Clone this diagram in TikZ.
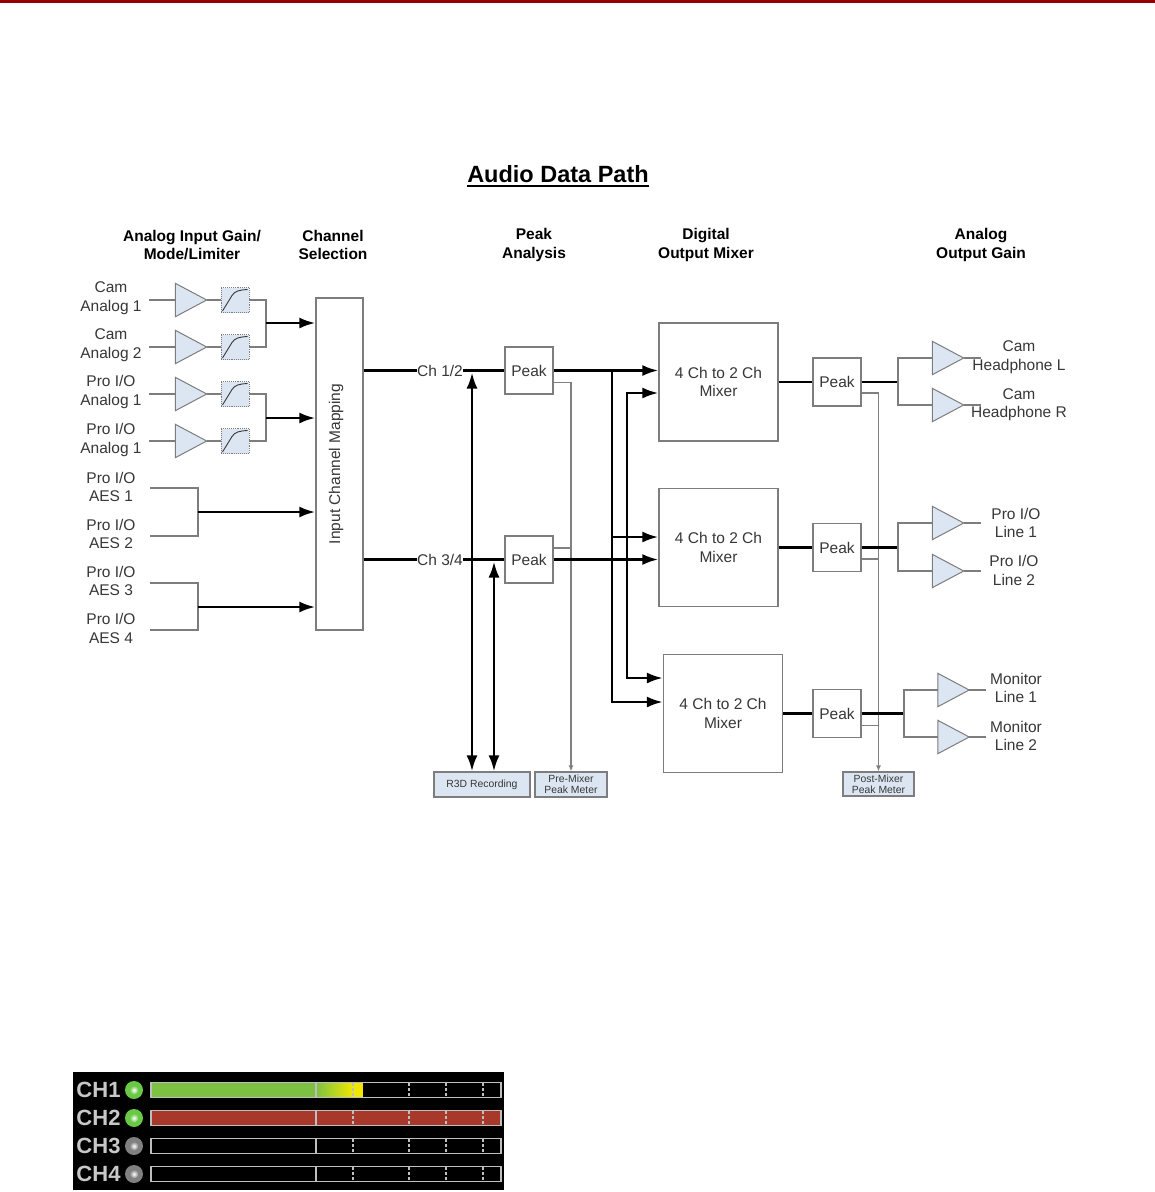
\documentclass[tikz,border=0pt]{standalone}
\usepackage{fontspec}
\setmainfont{Liberation Sans}
\usetikzlibrary{calc,positioning,arrows.meta}

\definecolor{ampblue}{RGB}{220,230,242}
\definecolor{boxgray}{RGB}{125,125,125}
\definecolor{txtgray}{RGB}{55,55,55}
\definecolor{topred}{RGB}{150,0,0}
\definecolor{ledgreen}{RGB}{105,200,70}
\definecolor{bargreen}{RGB}{125,193,66}
\definecolor{baryellow}{RGB}{240,232,0}
\definecolor{barred}{RGB}{168,56,42}
\definecolor{barline}{RGB}{190,190,190}
\definecolor{chtext}{RGB}{200,200,200}

\tikzset{
	lbl/.style={font=\fontsize{15.5}{18.5}\selectfont, text=txtgray, align=center, inner sep=0pt},
	hdr/.style={font=\bfseries\fontsize{15.5}{18.5}\selectfont, align=center, inner sep=0pt},
	ampbox/.style={minimum width=31, minimum height=33, inner sep=0pt},
	limbox/.style={draw=boxgray, densely dotted, line width=0.9, fill=ampblue, minimum width=28, minimum height=25, inner sep=0pt,
		path picture={\draw[solid, txtgray, line width=0.9pt]
			([shift={(1.5pt,1.5pt)}]path picture bounding box.south west) -- ([shift={(11pt,17pt)}]path picture bounding box.south west)
			.. controls ([shift={(14pt,21.5pt)}]path picture bounding box.south west) and ([shift={(18pt,22.5pt)}]path picture bounding box.south west)
			.. ([shift={(26.5pt,23pt)}]path picture bounding box.south west);}},
	peakbox/.style={lbl, draw=boxgray, line width=1.2, fill=white, minimum width=48, minimum height=47},
	mixbox/.style={lbl, draw=boxgray, line width=1.2, minimum width=119, minimum height=118},
	metbox/.style={draw=boxgray, line width=1.2, fill=ampblue, align=center, inner sep=0pt, text=txtgray, font=\fontsize{10.4}{11.2}\selectfont},
	wire/.style={draw=boxgray, line width=1.3},
	bus/.style={draw=black, line width=2.7},
	tap/.style={draw=gray, line width=1.2},
}

\begin{document}
\begin{tikzpicture}[x=1pt, y=-1pt, >={Latex[length=16pt,width=11pt]}]
	%\draw[help lines] (0,0) grid (1155,1192);
	\fill[white] (0,0) rectangle (1155,1192);
	\useasboundingbox (0,0) rectangle (1155,1192);
	\fill[topred] (0,0) rectangle (1155,2.5);

	%titre et colonnes
	\node[font=\bfseries\fontsize{23.5}{26}\selectfont, inner sep=0pt] (title) at (558,174) {Audio Data Path};
	\draw[line width=2] ([yshift=-3pt]title.south west) -- ([yshift=-3pt]title.south east);
	\node[hdr] (h1) at (192,245) {Analog Input Gain/\\Mode/Limiter};
	\node[hdr] (h2) at (333,245) {Channel\\Selection};
	\node[hdr] (h3) at (534,245) {Peak\\Analysis};
	\node[hdr] (h4) at (706,245) {Digital\\Output Mixer};
	\node[hdr] (h5) at (981,245) {Analog\\Output Gain};

	%entrees analogiques
	\node[lbl] (in1) at (111,298) {Cam\\Analog 1};
	\node[lbl] (in2) at (111,345) {Cam\\Analog 2};
	\node[lbl] (in3) at (111,392) {Pro I/O\\Analog 1};
	\node[lbl] (in4) at (111,440) {Pro I/O\\Analog 1};
	\node[ampbox] (ia1) at (191,300) {};
	\node[ampbox] (ia2) at (191,347) {};
	\node[ampbox] (ia3) at (191,394) {};
	\node[ampbox] (ia4) at (191,441) {};
	\node[limbox] (li1) at (235,300) {};
	\node[limbox] (li2) at (235,347) {};
	\node[limbox] (li3) at (235,394) {};
	\node[limbox] (li4) at (235,441) {};
	\coordinate (c12) at (266,323);
	\coordinate (c34) at (266,418);

	%entrees AES
	\node[lbl] (in5) at (111,487) {Pro I/O\\AES 1};
	\node[lbl] (in6) at (111,534) {Pro I/O\\AES 2};
	\node[lbl] (in7) at (111,581) {Pro I/O\\AES 3};
	\node[lbl] (in8) at (111,628.5) {Pro I/O\\AES 4};
	\coordinate (e1) at (150,488);
	\coordinate (e2) at (150,536);
	\coordinate (e3) at (150,583);
	\coordinate (e4) at (150,630);
	\coordinate (s12) at (198,512);
	\coordinate (s34) at (198,607);

	\node[draw=boxgray, line width=1.2, minimum width=47, minimum height=332, inner sep=0pt] (map) at (339.5,464) {};
	\node[lbl, rotate=90] (maptxt) at ([xshift=-3.5pt]map.center) {Input Channel Mapping};

	%analyse peak
	\node[peakbox] (pk1) at (529,370.5) {Peak};
	\node[peakbox] (pk2) at (529,559.5) {Peak};
	\node[metbox, minimum width=96, minimum height=25] (r3d) at (482,784.5) {R3D Recording};
	\node[metbox, minimum width=72, minimum height=25] (premeter) at (571,784.5) {Pre-Mixer\\Peak Meter};
	\coordinate (t12) at (472,370.5);
	\coordinate (t34) at (494,559.5);
	\coordinate (b12) at (612,370.5);
	\coordinate (b34) at (627,559.5);

	%mixeurs
	\node[mixbox] (mix1) at (718.5,382) {4 Ch to 2 Ch\\Mixer};
	\node[mixbox] (mix2) at (718.5,547.5) {4 Ch to 2 Ch\\Mixer};
	\node[mixbox] (mix3) at (723,713.5) {4 Ch to 2 Ch\\Mixer};
	\node[peakbox, minimum height=48] (pk3) at (837,382) {Peak};
	\node[peakbox, minimum height=48] (pk4) at (837,547.5) {Peak};
	\node[peakbox, minimum height=48] (pk5) at (837,713.5) {Peak};
	\node[metbox, minimum width=71, minimum height=24] (postmeter) at (878.5,784) {Post-Mixer\\Peak Meter};
	\coordinate (f1) at (898,382);
	\coordinate (f2) at (898,547.5);
	\coordinate (f3) at (904,713.5);

	%sorties
	\node[ampbox] (oa1) at (948,358) {};
	\node[ampbox] (oa2) at (948,405) {};
	\node[ampbox] (oa3) at (948,523) {};
	\node[ampbox] (oa4) at (948,571) {};
	\node[ampbox] (oa5) at (953.5,690) {};
	\node[ampbox] (oa6) at (953.5,737) {};
	\node[lbl] (out1) at (1019,357) {Cam\\Headphone L};
	\node[lbl] (out2) at (1019,404.5) {Cam\\Headphone R};
	\node[lbl] (out3) at (1016,523) {Pro I/O\\Line 1};
	\node[lbl] (out4) at (1014,570.5) {Pro I/O\\Line 2};
	\node[lbl] (out5) at (1016,688) {Monitor\\Line 1};
	\node[lbl] (out6) at (1016,736) {Monitor\\Line 2};

	\foreach \a in {ia1,ia2,ia3,ia4,oa1,oa2,oa3,oa4,oa5,oa6}
		\filldraw[fill=ampblue, draw=boxgray, line width=1] (\a.north west) -- (\a.east) -- (\a.south west) -- cycle;

	%liaisons entrees
	\foreach \i in {1,2,3,4} {
		\draw[wire] (ia\i.west) -- ++(-26,0);
		\draw[wire] (ia\i.east) -- (li\i.west);
	}
	\draw[wire] (li1.east) -| (c12) |- (li2.east);
	\draw[wire] (li3.east) -| (c34) |- (li4.east);
	\draw[wire] (e1) -| (s12) |- (e2);
	\draw[wire] (e3) -| (s34) |- (e4);
	\foreach \c in {c12,c34,s12,s34}
		\draw[bus,->] (\c) -- (\c -| map.west);

	%canaux
	\draw[bus] (map.east |- pk1) -- (pk1.west);
	\draw[bus] (map.east |- pk2) -- (pk2.west);
	\node[lbl, fill=white, inner sep=0.6pt] (ch12) at (440,370.5) {Ch 1/2};
	\node[lbl, fill=white, inner sep=0.6pt] (ch34) at (440,559.5) {Ch 3/4};
	\draw[bus,<->] ([yshift=-2pt]t12) -- (t12 |- r3d.north);
	\draw[bus,<->] ([yshift=-2pt]t34) -- (t34 |- r3d.north);
	\draw[tap,-{Latex[length=6pt,width=5pt]}] ([yshift=-12pt]pk1.east) -| (premeter.north);
	\draw[tap] ([yshift=11.5pt]pk2.east) -- ([yshift=11.5pt]pk2.east -| premeter);

	%vers les mixeurs
	\draw[bus,->] (pk1.east) -- (pk1.east -| mix1.west);
	\draw[bus,->] (b12) |- ([yshift=10.5pt]mix2.west);
	\draw[bus,->] (b12) |- ([yshift=11.5pt]mix3.west);
	\draw[bus,->] (pk2.east) -- (pk2.east -| mix2.west);
	\draw[bus,->] (b34) |- ([yshift=-11pt]mix1.west);
	\draw[bus,->] (b34) |- ([yshift=35.5pt]mix3.west);

	%sorties des mixeurs
	\draw[tap,-{Latex[length=6pt,width=5pt]}] ([yshift=-11pt]pk3.east) -| (postmeter.north);
	\draw[tap] ([yshift=-11.5pt]pk4.east) -- ([yshift=-11.5pt]pk4.east -| postmeter);
	\draw[tap] ([yshift=-12pt]pk5.east) -- ([yshift=-12pt]pk5.east -| postmeter);
	\draw[bus] (mix1.east) -- (pk3.west);
	\draw[bus] (mix2.east) -- (pk4.west);
	\draw[bus] (mix3.east) -- (pk5.west);
	\draw[bus] (pk3.east) -- (f1);
	\draw[bus] (pk4.east) -- (f2);
	\draw[bus] (pk5.east) -- (f3);
	\draw[wire] (oa1.west) -| (f1) |- (oa2.west);
	\draw[wire] (oa3.west) -| (f2) |- (oa4.west);
	\draw[wire] (oa5.west) -| (f3) |- (oa6.west);
	\foreach \a in {oa1,oa2,oa3,oa4,oa5,oa6}
		\draw[wire] (\a.east) -- ++(17,0);

	%vu-metres
	\fill[black] (73,1072) rectangle (504,1190);
	\fill[bargreen] (151,1083) rectangle (316,1097);
	\shade[left color=bargreen, right color=baryellow] (316,1083) rectangle (353,1097);
	\fill[baryellow] (353,1083) rectangle (363,1097);
	\fill[barred] (151,1111) rectangle (501,1125);
	\foreach \n/\y/\led in {1/1090/ledgreen,2/1118/ledgreen,3/1146/gray,4/1174/gray} {
		\node[font=\bfseries\fontsize{22}{22}\selectfont, text=chtext, inner sep=0pt] (mch\n) at (98.5,\y) {CH\n};
		\fill[\led] (134,\y) circle[radius=9pt];
		\shade[inner color=white, outer color=\led] (134,\y) circle[radius=4.5pt];
		\draw[barline, line width=1.5] (151,\y-7.5) rectangle (501,\y+7.5);
		\draw[barline, line width=1.5] (316,\y-7.5) -- (316,\y+7.5);
		\foreach \x in {353,409,446,483}
			\draw[barline, line width=1.5, dash pattern=on 3.5pt off 1.5pt] (\x,\y-7.5) -- (\x,\y+7.5);
	}
\end{tikzpicture}
\end{document}
